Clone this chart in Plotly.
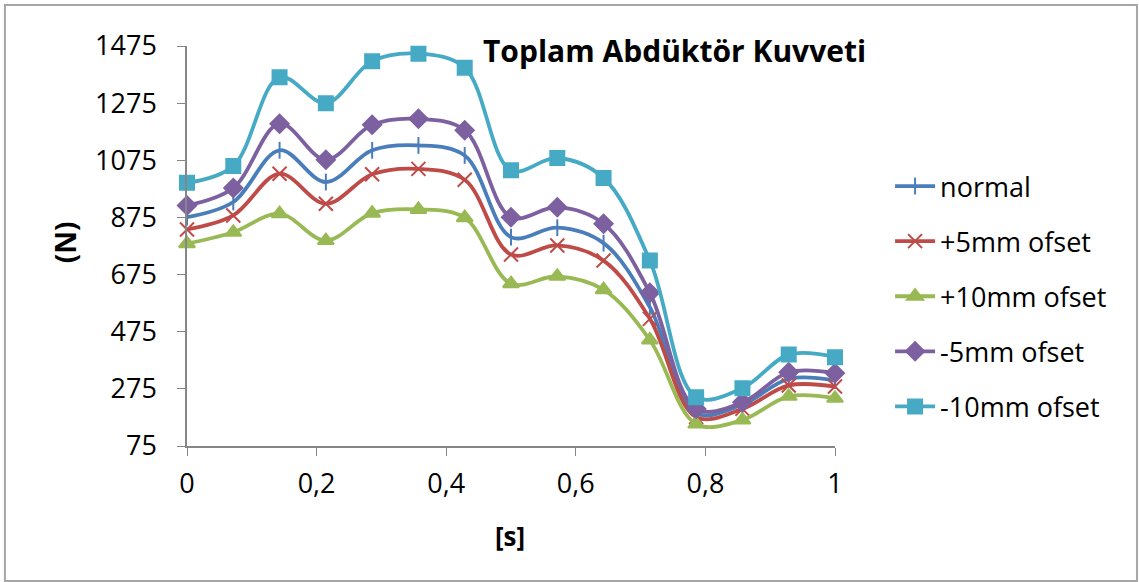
import plotly.graph_objects as go

t = [i / 14 for i in range(15)]

normal = [876, 929, 1110, 999, 1110, 1127, 1092, 806, 839, 785, 561, 190, 220, 310, 304]
plus5 = [833, 882, 1028, 923, 1026, 1045, 1007, 745, 777, 724, 520, 176, 205, 287, 283]
plus10 = [783, 823, 888, 794, 890, 903, 874, 643, 669, 622, 446, 152, 166, 249, 242]
minus5 = [917, 978, 1203, 1077, 1199, 1220, 1180, 876, 911, 853, 611, 205, 228, 333, 330]
minus10 = [996, 1055, 1366, 1275, 1422, 1448, 1399, 1040, 1083, 1013, 724, 246, 277, 395, 386]

names = ["normal", "+5mm ofset", "+10mm ofset", "-5mm ofset", "-10mm ofset"]
series = [normal, plus5, plus10, minus5, minus10]
colors = ["#4A7EBB", "#BE4B48", "#98B954", "#7D60A0", "#46AAC5"]
symbols = ["line-ns-open", "x-thin-open", "triangle-up", "diamond", "square"]
sizes = [12, 14, 14, 14, 14]

FONT = "Open Sans"

fig = go.Figure()
for i, (nm, ys, c, s, sz) in enumerate(zip(names, series, colors, symbols, sizes)):
    fig.add_trace(go.Scatter(
        x=t, y=ys, name=nm, mode="lines+markers",
        line=dict(color=c, width=3.8, shape="spline", smoothing=1),
        marker=dict(symbol=s, size=sz, color=c, line=dict(color=c, width=2)),
        cliponaxis=False, legendgroup=f"g{i}",
    ))

fig.update_layout(
    width=1139, height=582,
    margin=dict(l=187, r=304, t=46, b=136),
    paper_bgcolor="white", plot_bgcolor="white",
    separators=", ",
    font=dict(family=FONT, size=27, color="black"),
    showlegend=True,
    legend=dict(x=1.085, xanchor="left", y=0.71, yanchor="top",
                font=dict(family=FONT, size=27, color="black"),
                tracegroupgap=17, bgcolor="rgba(0,0,0,0)", itemwidth=40),
    xaxis=dict(range=[0, 1], tick0=0, dtick=0.2, showgrid=False, zeroline=False,
               showline=True, linecolor="#868686", linewidth=1.5,
               ticks="outside", ticklen=8, tickcolor="#868686", ticklabelstandoff=5,
               tickfont=dict(family=FONT, size=27, color="black")),
    yaxis=dict(range=[75, 1475], tick0=75, dtick=200, showgrid=False, zeroline=False,
               showline=True, linecolor="#868686", linewidth=1.5,
               ticks="outside", ticklen=8, tickcolor="#868686", ticklabelstandoff=15,
               tickfont=dict(family=FONT, size=27, color="black")),
    annotations=[
        dict(text="<b>Toplam Abdüktör Kuvveti</b>", x=0.753, y=0.99, xref="paper", yref="paper",
             xanchor="center", yanchor="middle", showarrow=False,
             font=dict(family=FONT, size=30, color="black")),
        dict(text="<b>[s]</b>", x=0.498, y=-0.225, xref="paper", yref="paper",
             xanchor="center", yanchor="middle", showarrow=False,
             font=dict(family=FONT, size=26, color="black")),
        dict(text="<b>(N)</b>", x=-0.188, y=0.51, xref="paper", yref="paper",
             xanchor="center", yanchor="middle", showarrow=False, textangle=-90,
             font=dict(family=FONT, size=28, color="black")),
    ],
    shapes=[dict(type="rect", xref="paper", yref="paper",
                 x0=-0.281, x1=1.466, y0=-0.3375, y1=1.1025,
                 line=dict(color="#A6A6A6", width=2), layer="below")],
)

fig.write_html("out.html")
